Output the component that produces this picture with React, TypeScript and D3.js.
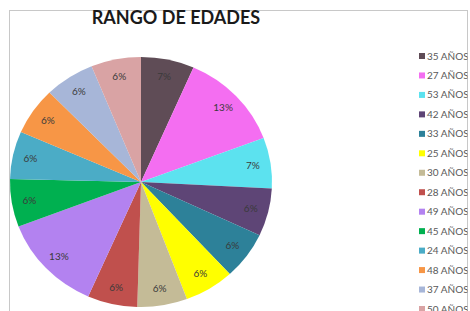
import React, { useRef, useEffect } from 'react';
import * as d3 from 'd3';

const categories = ['35 AÑOS', '27 AÑOS', '53 AÑOS', '42 AÑOS', '33 AÑOS', '25 AÑOS', '30 AÑOS',
  '28 AÑOS', '49 AÑOS', '45 AÑOS', '24 AÑOS', '48 AÑOS', '37 AÑOS', '50 AÑOS'];
const values = [6.5, 12.6, 6.5, 6.1, 6.1, 6.1, 6.1, 6.1, 12.5, 6.1, 6.1, 6.1, 6.1, 6.1];
const colors = ['#5f4c56', '#f46ef1', '#5ce2ef', '#5e4576', '#2d8199', '#ffff00', '#c4bb97',
  '#c0504d', '#b382f0', '#00b050', '#4bacc6', '#f79646', '#a7b6d8', '#d9a3a4'];

const width = 470;
const height = 311;

const App = () => {
  const svgRef = useRef<SVGSVGElement>(null);

  useEffect(() => {
    const svg = d3.select(svgRef.current);
    svg.selectAll('*').remove();

    svg.attr('width', width).attr('height', height)
      .style('background', 'white');

    // frame
    svg.append('rect')
      .attr('x', 9.5).attr('y', 10.5)
      .attr('width', 458).attr('height', 320)
      .attr('fill', 'none')
      .attr('stroke', '#c8c8c8');

    svg.append('text')
      .attr('x', 176).attr('y', 24)
      .attr('text-anchor', 'middle')
      .attr('font-family', 'Lato, sans-serif')
      .attr('font-weight', 'bold')
      .attr('font-size', 18)
      .attr('fill', '#1a1a1a')
      .text('RANGO DE EDADES');

    const cx = 141, cy = 182, r = 125, sx = 1.048;
    const total = d3.sum(values);
    const pie = d3.pie<number>().sort(null).value(d => d);
    const arcs = pie(values);
    const arc = d3.arc<d3.PieArcDatum<number>>().innerRadius(0).outerRadius(r);
    const labelArc = d3.arc<d3.PieArcDatum<number>>().innerRadius(108).outerRadius(108);

    const g = svg.append('g')
      .attr('transform', `translate(${cx},${cy}) scale(${sx},1)`);
    g.selectAll('path')
      .data(arcs)
      .enter()
      .append('path')
      .attr('d', arc)
      .attr('fill', (d, i) => colors[i]);

    svg.append('g')
      .selectAll('text')
      .data(arcs)
      .enter()
      .append('text')
      .attr('x', d => cx + labelArc.centroid(d)[0] * sx)
      .attr('y', d => cy + labelArc.centroid(d)[1])
      .attr('dy', '0.35em')
      .attr('text-anchor', 'middle')
      .attr('font-family', 'Lato, sans-serif')
      .attr('font-size', 10)
      .attr('fill', '#3a3a3a')
      .text(d => Math.round(d.data / total * 100) + '%');

    // legend, cut by the frame on the right
    svg.append('clipPath').attr('id', 'legclip')
      .append('rect').attr('x', 0).attr('y', 0).attr('width', 467.5).attr('height', height);

    const legend = svg.append('g').attr('clip-path', 'url(#legclip)');
    const ly = d3.scalePoint<string>().domain(categories).range([56, 309]);
    const items = legend.selectAll('g')
      .data(categories)
      .enter()
      .append('g')
      .attr('transform', d => `translate(419,${ly(d)})`);
    items.append('rect')
      .attr('x', 0).attr('y', -3)
      .attr('width', 6).attr('height', 6)
      .attr('fill', (d, i) => colors[i]);
    items.append('text')
      .attr('x', 8).attr('y', 0)
      .attr('dy', '0.35em')
      .attr('font-family', 'Lato, sans-serif')
      .attr('font-size', 10)
      .attr('fill', '#595959')
      .text(d => d);
  }, []);

  return <svg ref={svgRef} style={{ position: 'absolute', left: 0, top: 0 }}></svg>;
};

export default App;
